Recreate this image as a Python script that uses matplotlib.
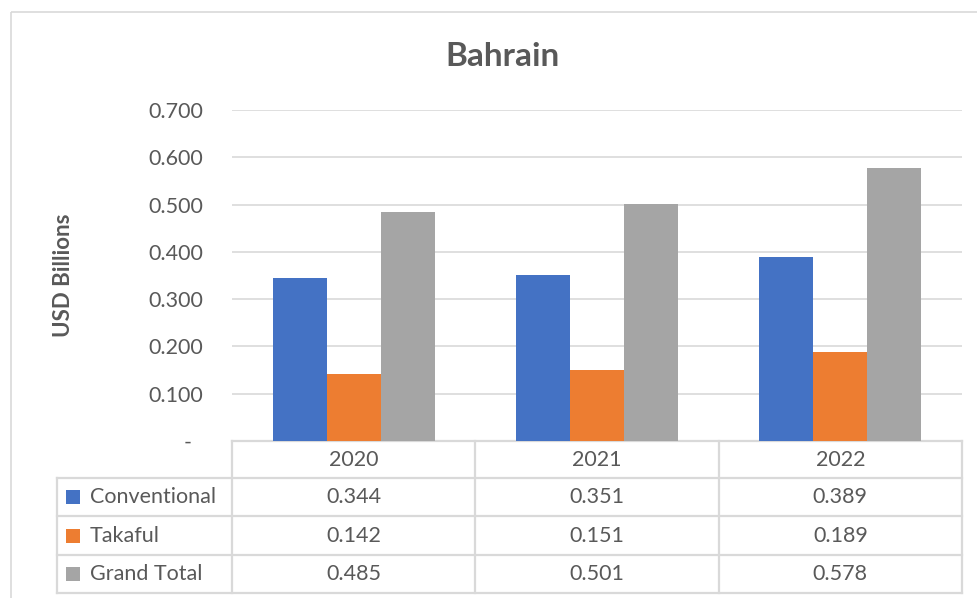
import matplotlib.pyplot as plt
from matplotlib.patches import Rectangle
from matplotlib.transforms import blended_transform_factory

plt.rcParams['font.family'] = ['Lato', 'DejaVu Sans']

years = ["2020", "2021", "2022"]
series = ["Conventional", "Takaful", "Grand Total"]
conventional = [0.344, 0.351, 0.389]
takaful = [0.142, 0.151, 0.189]
grand_total = [0.485, 0.501, 0.578]
yticks = [0, 0.1, 0.2, 0.3, 0.4, 0.5, 0.6, 0.7]
ytick_labels = ["-  ", "0.100", "0.200", "0.300", "0.400", "0.500", "0.600", "0.700"]

colors = ["#4472C4", "#ED7D31", "#A5A5A5"]
text_c = "#595959"
grid_c = "#D9D9D9"
fs = 15.5

W, H = 977, 598
fig = plt.figure(figsize=(W / 100, H / 100), dpi=100)

# background layer in pixel coords (origin top-left)
bg = fig.add_axes([0, 0, 1, 1], zorder=0)
bg.set_xlim(0, W)
bg.set_ylim(H, 0)
bg.axis("off")
bg.add_patch(Rectangle((11, 12), 1000, 700, fill=False, ec=grid_c, lw=1.2))

# plot area
x0, x1, y_top, y_base = 232, 962, 110, 441
ax = fig.add_axes([x0 / W, (H - y_base) / H, (x1 - x0) / W, (y_base - y_top) / H], zorder=2)
ax.patch.set_alpha(0)
ax.set_xlim(0, 3)
ax.set_ylim(0, 0.7)

bw = 0.222
vals = [conventional, takaful, grand_total]
for j, v in enumerate(vals):
    xs = [i + 0.5 + (j - 1) * bw for i in range(3)]
    ax.bar(xs, v, width=bw, color=colors[j], zorder=3)

ax.set_yticks(yticks)
ax.set_yticklabels(ytick_labels)
ax.tick_params(axis="y", length=0, pad=21, labelsize=fs, labelcolor=text_c)
ax.set_xticks([])
ax.yaxis.grid(True, color=grid_c, lw=1.2, zorder=0)
for s in ax.spines.values():
    s.set_visible(False)

fig.text(502 / W, 1 - 57 / H, "Bahrain", ha="center", va="center",
         fontsize=24, fontweight="bold", color=text_c)
fig.text(63 / W, 1 - 275 / H, "USD Billions", ha="center", va="center",
         rotation=90, fontsize=16, fontweight="bold", color=text_c)

# data table
tr = blended_transform_factory(ax.transData, bg.transData)
rows_y = [441, 478, 516, 555, 593]
lab_left = 57
lkw = dict(color=grid_c, lw=1.6, clip_on=False, zorder=1)

bg.plot([x0, x1], [rows_y[0], rows_y[0]], **lkw)
for y in rows_y[1:]:
    bg.plot([lab_left, x1], [y, y], **lkw)
bg.plot([lab_left, lab_left], [rows_y[1], rows_y[-1]], **lkw)
for i in range(4):
    bg.plot([i, i], [rows_y[0], rows_y[-1]], transform=tr, **lkw)

tkw = dict(ha="center", va="center", fontsize=fs, color=text_c)
for i, yr in enumerate(years):
    bg.text(i + 0.5, (rows_y[0] + rows_y[1]) / 2, yr, transform=tr, **tkw)

for r, name in enumerate(series):
    yc = (rows_y[r + 1] + rows_y[r + 2]) / 2
    bg.add_patch(Rectangle((66, yc - 7), 14, 14, color=colors[r], lw=0))
    bg.text(90, yc, name, ha="left", va="center", fontsize=fs, color=text_c)
    for i in range(3):
        bg.text(i + 0.5, yc, f"{vals[r][i]:.3f}", transform=tr, **tkw)

fig.savefig("out.png", dpi=100)
